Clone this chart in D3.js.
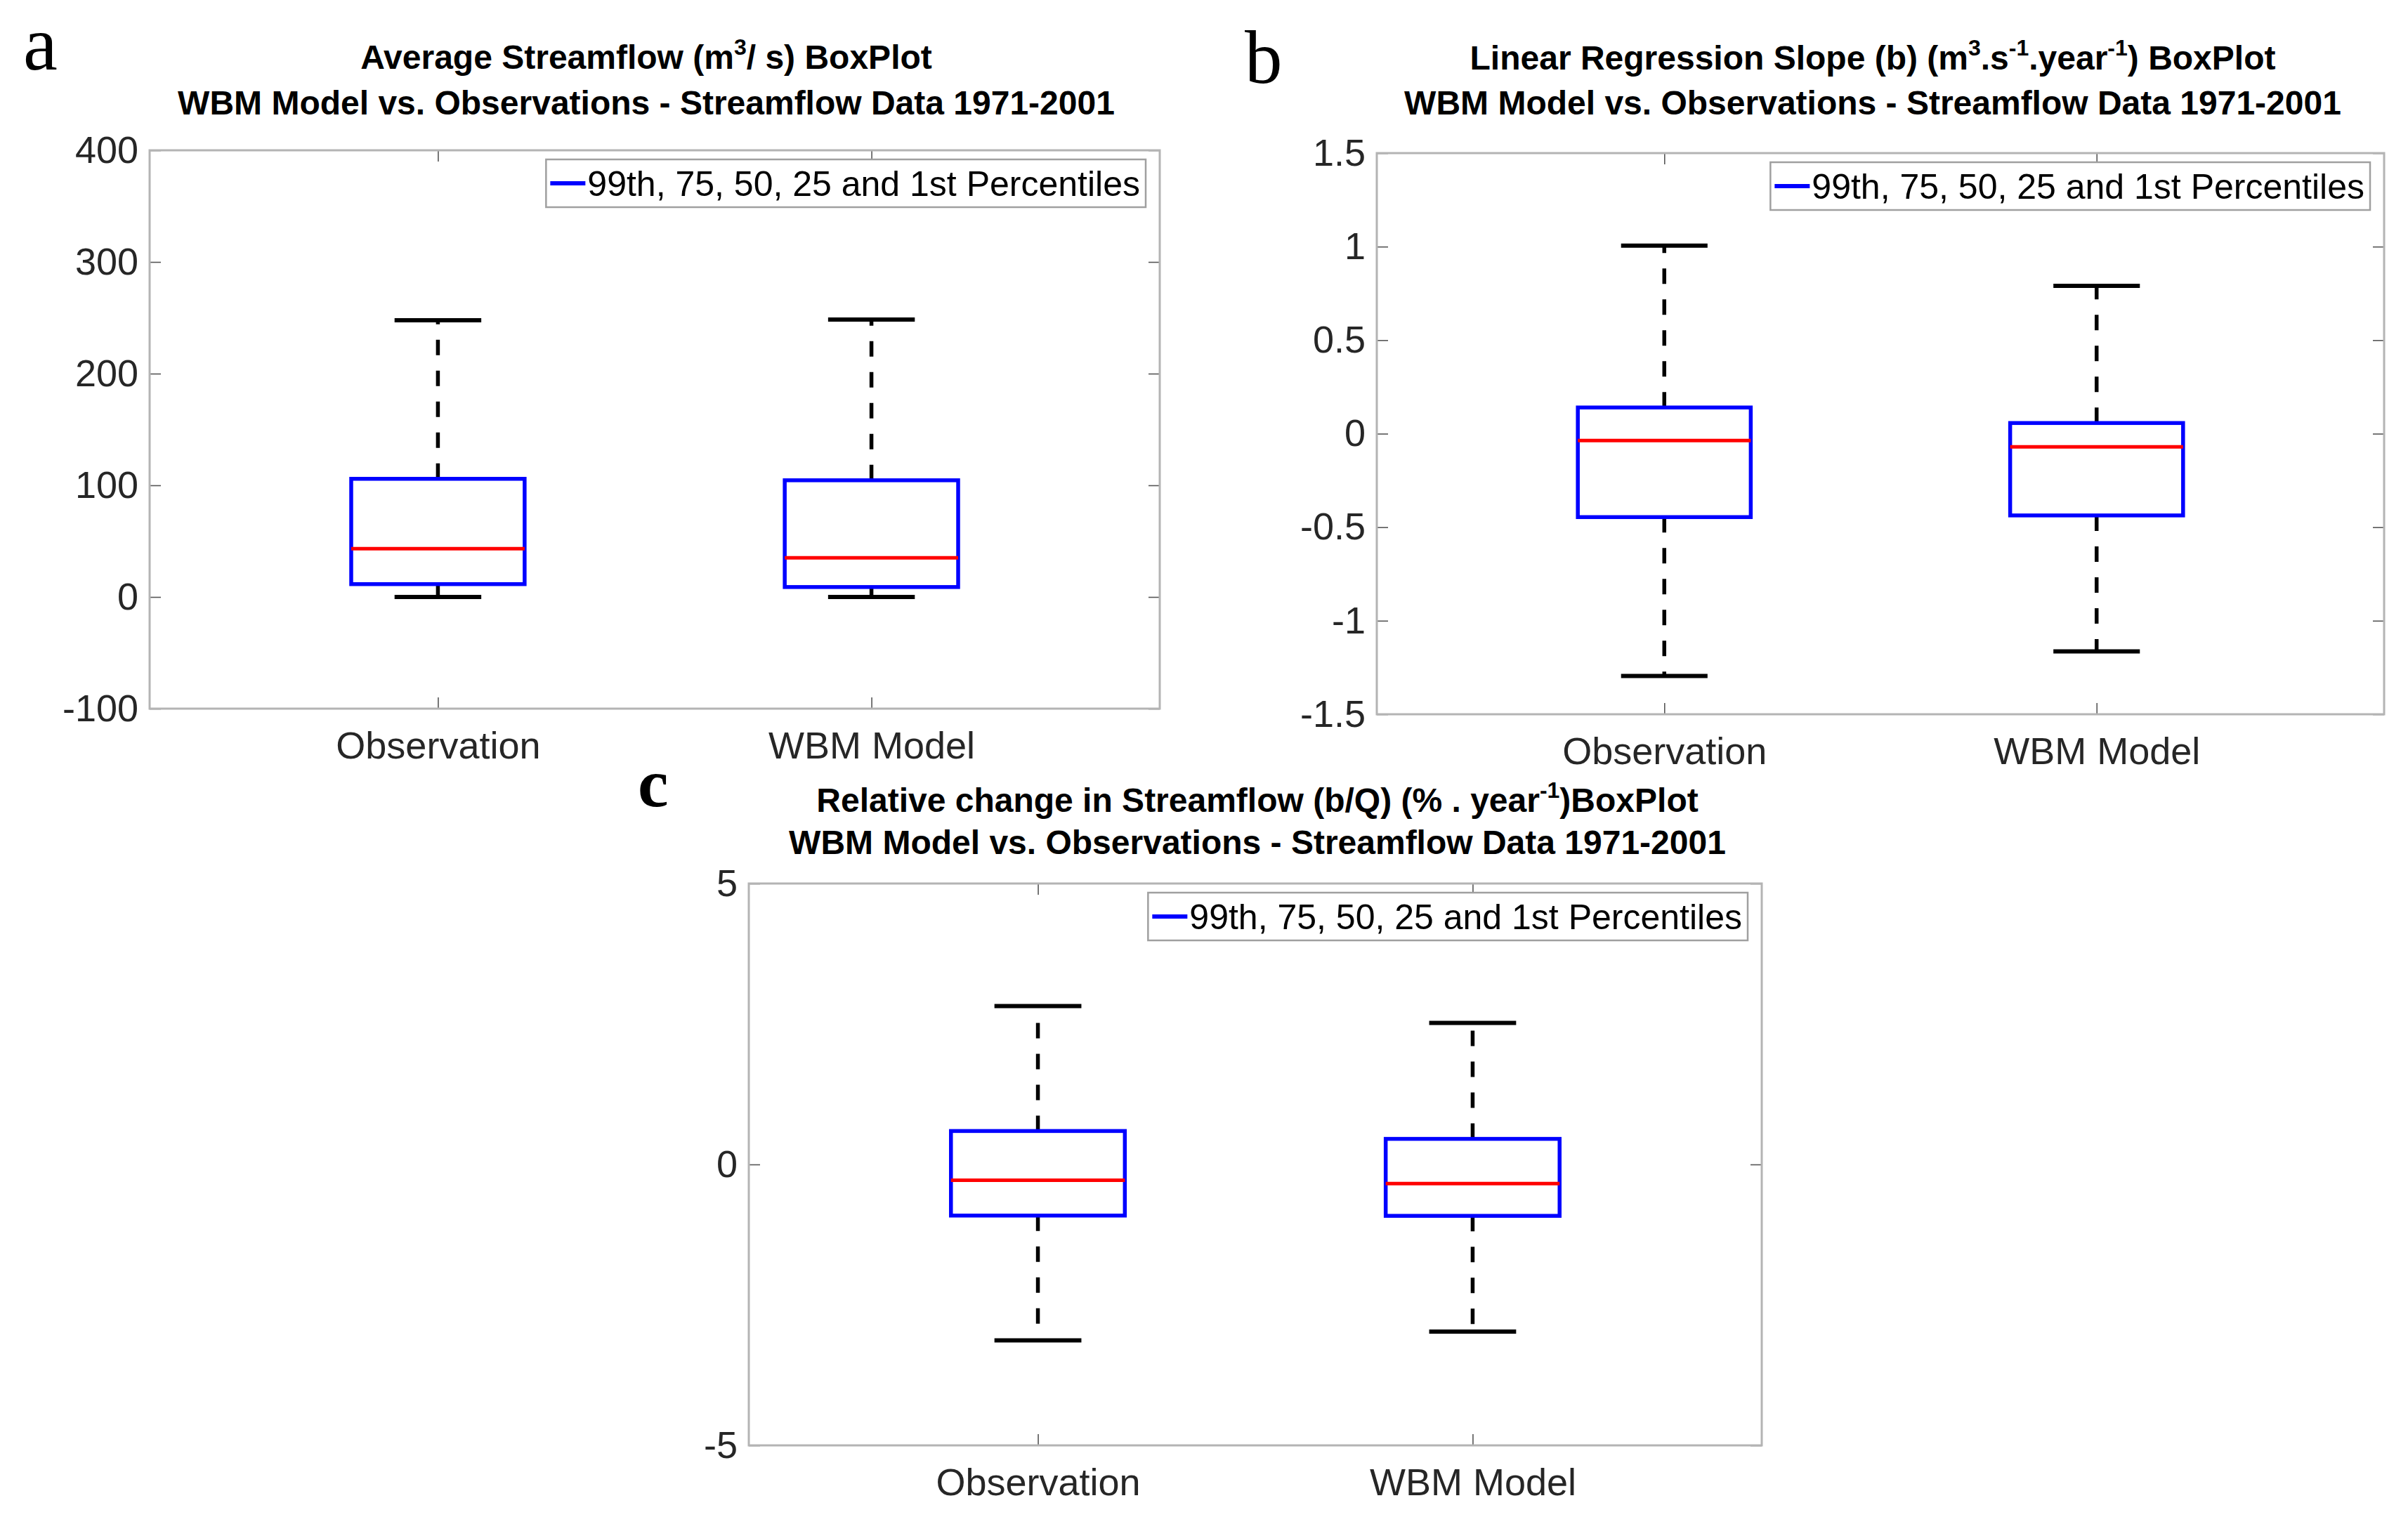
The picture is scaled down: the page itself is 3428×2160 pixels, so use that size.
<!DOCTYPE html>
<html>
<head>
<meta charset="utf-8">
<script src="https://cdn.jsdelivr.net/npm/d3@7"></script>
<style>
  html, body { margin: 0; padding: 0; background: #fff; }
  svg { display: block; }
  text { font-family: "Liberation Sans", Arial, Helvetica, sans-serif; }
</style>
</head>
<body>
<svg id="chart" width="3428" height="2160"></svg>
<script>
// categories + five-number summaries [1st, 25th, 50th, 75th, 99th]
const categories = ['Observation', 'WBM Model'];

const avgObs = [0, 11.5, 43.3, 105.8, 247.8];
const avgWbm = [0, 8.9, 35.0, 104.5, 248.5];

const slopeObs = [-1.295, -0.446, -0.037, 0.140, 1.005];
const slopeWbm = [-1.164, -0.437, -0.070, 0.057, 0.790];

const relObs = [-3.13, -0.91, -0.28, 0.595, 2.82];
const relWbm = [-2.975, -0.915, -0.34, 0.455, 2.52];

const avgTicks = [-100, 0, 100, 200, 300, 400];
const avgTickLabels = ['-100', '0', '100', '200', '300', '400'];
const slopeTicks = [-1.5, -1, -0.5, 0, 0.5, 1, 1.5];
const slopeTickLabels = ['-1.5', '-1', '-0.5', '0', '0.5', '1', '1.5'];
const relTicks = [-5, 0, 5];
const relTickLabels = ['-5', '0', '5'];

const legendText = '99th, 75, 50, 25 and 1st Percentiles';
const subTitle = 'WBM Model vs. Observations - Streamflow Data 1971-2001';

const panels = [
  { letter: 'a', lx: 33, ly: 99, lsize: 110, lweight: 'normal',
    x0: 213, x1: 1651, y0: 214, y1: 1009, tx: 920, t1: 98, t2: 163,
    title: [['Average Streamflow (m'], ['3', 1], ['/ s) BoxPlot']],
    domain: [-100, 400], ticks: avgTicks, labels: avgTickLabels, data: [avgObs, avgWbm] },
  { letter: 'b', lx: 1772, ly: 118, lsize: 107, lweight: 'normal',
    x0: 1960, x1: 3394, y0: 218, y1: 1017, tx: 2666, t1: 99, t2: 163,
    title: [['Linear Regression Slope (b) (m'], ['3', 1], ['.s'], ['-1', 1], ['.year'], ['-1', 1], [') BoxPlot']],
    domain: [-1.5, 1.5], ticks: slopeTicks, labels: slopeTickLabels, data: [slopeObs, slopeWbm] },
  { letter: 'c', lx: 908, ly: 1148, lsize: 98, lweight: 'bold',
    x0: 1066, x1: 2508, y0: 1258, y1: 2058, tx: 1790, t1: 1156, t2: 1216,
    title: [['Relative change in Streamflow (b/Q) (% . year'], ['-1', 1], [')BoxPlot']],
    domain: [-5, 5], ticks: relTicks, labels: relTickLabels, data: [relObs, relWbm] }
];

const svg = d3.select('#chart');
const TICK = 16;

panels.forEach(p => {
  const g = svg.append('g');
  const x = d3.scaleLinear().domain([0.335, 2.665]).range([p.x0, p.x1]);
  const y = d3.scaleLinear().domain(p.domain).range([p.y1, p.y0]);
  const pos = categories.map((c, i) => i + 1);

  // panel letter
  svg.append('text').attr('x', p.lx).attr('y', p.ly)
    .style('font-family', '"Liberation Serif", "Times New Roman", serif')
    .style('font-size', p.lsize + 'px').style('font-weight', p.lweight)
    .text(p.letter);

  // title (2 lines, superscripts as tspans)
  const t = g.append('text').attr('x', p.tx).attr('y', p.t1).attr('text-anchor', 'middle')
    .style('font-size', '48px').style('font-weight', 'bold').style('fill', '#000');
  let raised = false;
  p.title.forEach(([s, sup]) => {
    const ts = t.append('tspan').text(s);
    if (sup && !raised) { ts.attr('dy', -20).style('font-size', '32px'); raised = true; }
    else if (!sup && raised) { ts.attr('dy', 20); raised = false; }
  });
  g.append('text').attr('x', p.tx).attr('y', p.t2).attr('text-anchor', 'middle')
    .style('font-size', '48px').style('font-weight', 'bold').style('fill', '#000')
    .text(subTitle);

  // axes (ticks inward on all four sides)
  const styleAxis = sel => {
    sel.select('.domain').remove();
    sel.selectAll('.tick line').attr('stroke', '#555').attr('stroke-width', 1.6);
    sel.selectAll('.tick text').style('font-size', '54px').attr('fill', '#262626')
      .style('font-family', '"Liberation Sans", Arial, sans-serif');
  };
  g.append('g').attr('transform', `translate(${p.x0},0)`)
    .call(d3.axisLeft(y).tickValues(p.ticks).tickFormat((d, i) => p.labels[i]).tickSize(-TICK).tickPadding(16))
    .call(styleAxis);
  g.append('g').attr('transform', `translate(${p.x1},0)`)
    .call(d3.axisRight(y).tickValues(p.ticks).tickFormat('').tickSize(-TICK))
    .call(styleAxis);
  g.append('g').attr('transform', `translate(0,${p.y1})`)
    .call(d3.axisBottom(x).tickValues(pos).tickFormat((d, i) => categories[i]).tickSize(-TICK).tickPadding(33))
    .call(styleAxis);
  g.append('g').attr('transform', `translate(0,${p.y0})`)
    .call(d3.axisTop(x).tickValues(pos).tickFormat('').tickSize(-TICK))
    .call(styleAxis);

  // frame
  g.append('rect').attr('x', p.x0).attr('y', p.y0)
    .attr('width', p.x1 - p.x0).attr('height', p.y1 - p.y0)
    .attr('fill', 'none').attr('stroke', '#b4b4b4').attr('stroke-width', 3);

  // boxes
  const bw = x(1.2) - x(1), cw = x(1.1) - x(1);
  const bx = g.selectAll('.bx').data(p.data).join('g').attr('class', 'bx');
  bx.append('line').attr('x1', (d, i) => x(i + 1)).attr('x2', (d, i) => x(i + 1))
    .attr('y1', d => y(d[3])).attr('y2', d => y(d[4]))
    .attr('stroke', '#000').attr('stroke-width', 5.5).attr('stroke-dasharray', '22,22');
  bx.append('line').attr('x1', (d, i) => x(i + 1)).attr('x2', (d, i) => x(i + 1))
    .attr('y1', d => y(d[1])).attr('y2', d => y(d[0]))
    .attr('stroke', '#000').attr('stroke-width', 5.5).attr('stroke-dasharray', '22,22');
  [0, 4].forEach(k => {
    bx.append('line').attr('x1', (d, i) => x(i + 1) - cw).attr('x2', (d, i) => x(i + 1) + cw)
      .attr('y1', d => y(d[k])).attr('y2', d => y(d[k]))
      .attr('stroke', '#000').attr('stroke-width', 6);
  });
  bx.append('rect').attr('x', (d, i) => x(i + 1) - bw).attr('width', 2 * bw)
    .attr('y', d => y(d[3])).attr('height', d => y(d[1]) - y(d[3]))
    .attr('fill', 'none').attr('stroke', '#0000ff').attr('stroke-width', 5.5);
  bx.append('line').attr('x1', (d, i) => x(i + 1) - bw).attr('x2', (d, i) => x(i + 1) + bw)
    .attr('y1', d => y(d[2])).attr('y2', d => y(d[2]))
    .attr('stroke', '#ff0000').attr('stroke-width', 5);

  // legend
  const lg = g.append('g');
  const lr = lg.append('rect').attr('fill', '#fff').attr('stroke', '#a0a0a0').attr('stroke-width', 2.5);
  const lt = lg.append('text').style('font-size', '50px').style('fill', '#000').text(legendText);
  const tw = lt.node().getComputedTextLength();
  const lw = tw + 67, lh = 68;
  const lx = p.x1 - 20 - lw, ly = p.y0 + 13;
  lr.attr('x', lx).attr('y', ly).attr('width', lw).attr('height', lh);
  lt.attr('x', lx + 59).attr('y', ly + lh / 2 + 18);
  lg.append('line').attr('x1', lx + 6).attr('x2', lx + 56)
    .attr('y1', ly + lh / 2).attr('y2', ly + lh / 2)
    .attr('stroke', '#0000ff').attr('stroke-width', 6);
});
</script>
</body>
</html>
